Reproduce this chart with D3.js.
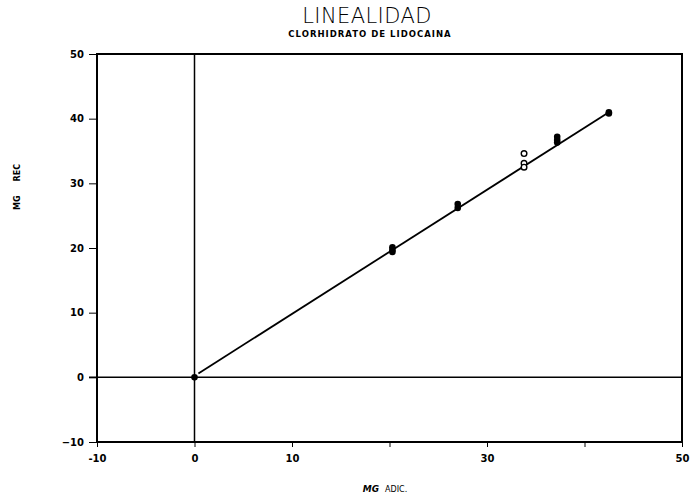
<!DOCTYPE html>
<html lang="es">
  <head>
    <meta charset="utf-8" />
    <title>Linealidad</title>
    <style>
      html,
      body {
        margin: 0;
        background: #fff;
      }
      text {
        font-family: 'DejaVu Sans', sans-serif;
        fill: #000;
      }
      .tick text {
        font-size: 10px;
        font-weight: bold;
      }
    </style>
  </head>
  <body>
    <svg></svg>
    <script src="https://d3js.org/d3.v7.min.js"></script>
    <script type="text/javascript">
      // Data (MG ADIC. vs MG REC)
      let addedFilled = [0, 20.3, 20.3, 20.3, 27.0, 27.0, 37.2, 37.2, 37.2, 42.5, 42.5]
      let recFilled = [0, 20.1, 19.7, 19.4, 26.8, 26.2, 37.2, 36.7, 36.3, 41.0, 40.8]
      let addedOpen = [33.8, 33.8, 33.8]
      let recOpen = [34.6, 33.1, 32.5]
      let fitX = [0.4, 42.5]
      let fitY = [0.6, 41.0]

      let xTicks = [-10, 0, 10, 20, 30, 40, 50]
      let xTickLabels = ['-10', '0', '10', '', '30', '', '50']
      let yTicks = [-10, 0, 10, 20, 30, 40, 50]

      let width = 692,
        height = 496
      let margin = { top: 54, right: 10, bottom: 54, left: 97 }

      let svg = d3.select('svg').attr('width', width).attr('height', height)

      let x = d3.scaleLinear().domain([-10, 50]).range([margin.left, width - margin.right])
      let y = d3.scaleLinear().domain([-10, 50]).range([height - margin.bottom, margin.top])

      // Title
      svg
        .append('text')
        .attr('x', 367)
        .attr('y', 23)
        .attr('text-anchor', 'middle')
        .attr('font-size', 21)
        .attr('font-weight', 300)
        .attr('letter-spacing', 0.4)
        .text('LINEALIDAD')

      svg
        .append('text')
        .attr('x', 370)
        .attr('y', 37)
        .attr('text-anchor', 'middle')
        .attr('font-size', 8.5)
        .attr('font-weight', 'bold')
        .attr('letter-spacing', 1)
        .text('CLORHIDRATO DE LIDOCAINA')

      // Axes
      svg
        .append('g')
        .attr('transform', `translate(0,${y(-10)})`)
        .call(
          d3
            .axisBottom(x)
            .tickValues(xTicks)
            .tickSize(5)
            .tickPadding(8)
            .tickFormat((d, i) => xTickLabels[i])
        )
        .call((g) => g.select('.domain').remove())

      svg
        .append('g')
        .attr('transform', `translate(${x(-10)},0)`)
        .call(d3.axisLeft(y).tickValues(yTicks).tickSize(8).tickPadding(5))
        .call((g) => g.select('.domain').remove())

      // Frame
      svg
        .append('rect')
        .attr('x', x(-10))
        .attr('y', y(50))
        .attr('width', x(50) - x(-10))
        .attr('height', y(-10) - y(50))
        .attr('fill', 'none')
        .attr('stroke', '#000')
        .attr('stroke-width', 2)

      // Zero lines
      svg
        .append('line')
        .attr('x1', x(0))
        .attr('x2', x(0))
        .attr('y1', y(50))
        .attr('y2', y(-10))
        .attr('stroke', '#000')
        .attr('stroke-width', 1.5)

      svg
        .append('line')
        .attr('x1', x(-10) - 8)
        .attr('x2', x(50))
        .attr('y1', y(0))
        .attr('y2', y(0))
        .attr('stroke', '#000')
        .attr('stroke-width', 1.5)

      // Fit line
      svg
        .append('path')
        .datum(d3.zip(fitX, fitY))
        .attr('fill', 'none')
        .attr('stroke', '#000')
        .attr('stroke-width', 1.8)
        .attr('d', d3.line((d) => x(d[0]), (d) => y(d[1])))

      // Points
      svg
        .append('g')
        .selectAll('circle')
        .data(d3.zip(addedFilled, recFilled))
        .join('circle')
        .attr('cx', (d) => x(d[0]))
        .attr('cy', (d) => y(d[1]))
        .attr('r', 3.3)
        .attr('fill', '#000')

      svg
        .append('g')
        .selectAll('circle')
        .data(d3.zip(addedOpen, recOpen))
        .join('circle')
        .attr('cx', (d) => x(d[0]))
        .attr('cy', (d) => y(d[1]))
        .attr('r', 2.8)
        .attr('fill', '#fff')
        .attr('stroke', '#000')
        .attr('stroke-width', 1.4)

      // Axis titles
      let xt = svg.append('text').attr('x', 385).attr('y', 492).attr('text-anchor', 'middle').attr('font-size', 8)
      xt.append('tspan').attr('font-weight', 'bold').attr('font-style', 'italic').attr('font-size', 9).text('MG')
      xt.append('tspan').attr('dx', 6).text('ADIC.')

      let yt = svg
        .append('text')
        .attr('transform', 'translate(20,187) rotate(-90)')
        .attr('text-anchor', 'middle')
        .attr('font-size', 8)
        .attr('font-weight', 'bold')
      yt.append('tspan').text('MG')
      yt.append('tspan').attr('dx', 14).text('REC')
    </script>
  </body>
</html>
